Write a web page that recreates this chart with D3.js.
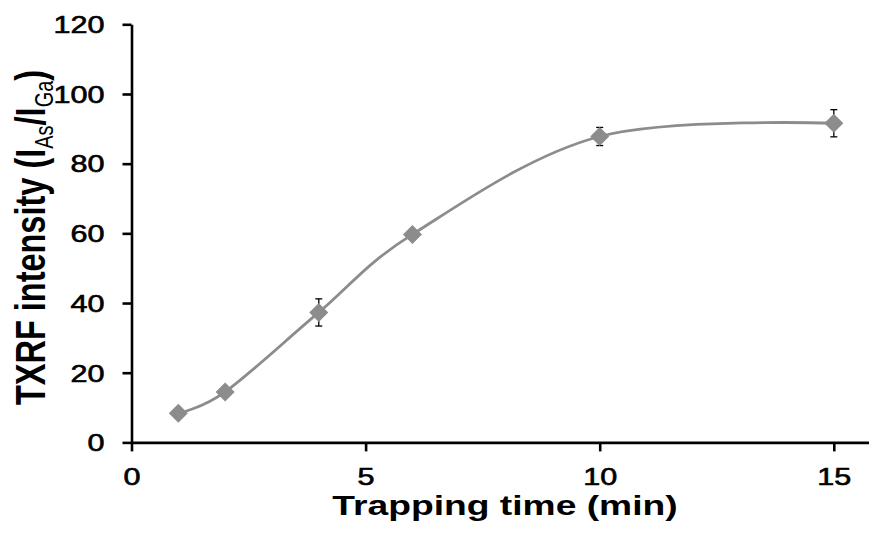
<!DOCTYPE html>
<html>
<head>
<meta charset="utf-8">
<script src="https://cdn.jsdelivr.net/npm/d3@7"></script>
<style>
  html, body { margin: 0; padding: 0; background: #fff; }
  svg { display: block; }
  text { font-family: "Liberation Sans", Arial, sans-serif; fill: #000; }
</style>
</head>
<body>
<svg id="chart" width="869" height="537"></svg>
<script>
// ---- data ----
const times = [1, 2, 4, 6, 10, 15];
const intensity = [8.4, 14.5, 37.3, 59.7, 87.8, 91.6];
const errors = [0.5, 0.6, 3.9, 1.0, 2.6, 3.9];
const xTicks = [0, 5, 10, 15];
const yTicks = [0, 20, 40, 60, 80, 100, 120];
const xTitle = "Trapping time (min)";

// ---- layout ----
const W = 869, H = 537;
const K = 1.33; // horizontal text stretch of the reference
const x0 = 131.5, pxPerX = 46.82;
const x = d3.scaleLinear().domain([0, 16]).range([x0, x0 + 16 * pxPerX]);
const y = d3.scaleLinear().domain([0, 120]).range([442.4, 24.3]);

const svg = d3.select("#chart");
svg.append("rect").attr("width", W).attr("height", H).attr("fill", "#fff");

const points = times.map((t, i) => ({ t, v: intensity[i], e: errors[i] }));

// smoothed line
const line = d3.line().x(d => x(d.t)).y(d => y(d.v)).curve(d3.curveCardinal.tension(0));
svg.append("path").datum(points)
  .attr("d", line).attr("fill", "none")
  .attr("stroke", "#8c8c8c").attr("stroke-width", 2.8);

// error bars
const eb = svg.append("g").attr("stroke", "#000").attr("stroke-width", 1.3);
points.forEach(d => {
  const cx = x(d.t), yt = y(d.v + d.e), yb = y(d.v - d.e);
  eb.append("line").attr("x1", cx).attr("x2", cx).attr("y1", yt).attr("y2", yb);
  eb.append("line").attr("x1", cx - 3.5).attr("x2", cx + 3.5).attr("y1", yt).attr("y2", yt);
  eb.append("line").attr("x1", cx - 3.5).attr("x2", cx + 3.5).attr("y1", yb).attr("y2", yb);
});

// markers
svg.append("g").selectAll("path").data(points).join("path")
  .attr("transform", d => `translate(${x(d.t)},${y(d.v)})`)
  .attr("d", "M0,-9.5L9.5,0L0,9.5L-9.5,0Z")
  .attr("fill", "#8c8c8c");

// axes
const gx = svg.append("g").attr("transform", `translate(0,${y(0)})`)
  .call(d3.axisBottom(x).tickValues(xTicks).tickSize(9).tickSizeOuter(0).tickFormat(d3.format("d")));
const gy = svg.append("g").attr("transform", `translate(${x(0)},0)`)
  .call(d3.axisLeft(y).tickValues(yTicks).tickSize(9).tickSizeOuter(0).tickFormat(d3.format("d")));

[gx, gy].forEach(g => {
  g.select(".domain").attr("stroke", "#000").attr("stroke-width", 2.6);
  g.selectAll(".tick line").attr("stroke", "#000").attr("stroke-width", 2.6);
  g.attr("font-size", null).attr("font-family", null);
  g.selectAll(".tick text").attr("stroke", "#000").attr("stroke-width", 0.6);
});
gx.selectAll(".tick text")
  .attr("y", 0).attr("dy", null)
  .attr("transform", `translate(0,43) scale(${K},1)`)
  .style("font-size", "23px");
gy.selectAll(".tick text")
  .attr("x", 0).attr("dy", "0.36em")
  .attr("transform", `translate(-27,0) scale(${K},1)`)
  .style("font-size", "23px");

// x title
svg.append("text")
  .attr("transform", `translate(505,515) scale(${K},1)`)
  .attr("text-anchor", "middle")
  .style("font-size", "28px").style("font-weight", "bold")
  .text(xTitle);

// y title with subscripts
const yt = svg.append("text")
  .attr("transform", `translate(45,237.5) scale(${K},1) rotate(-90)`)
  .attr("text-anchor", "middle")
  .style("font-size", "32.5px").style("font-weight", "bold");
yt.append("tspan").text("TXRF intensity (I");
yt.append("tspan").attr("dy", 6).style("font-size", "20px").style("font-weight", "normal").text("As");
yt.append("tspan").attr("dy", -6).text("/I");
yt.append("tspan").attr("dy", 6).style("font-size", "20px").style("font-weight", "normal").text("Ga");
yt.append("tspan").attr("dy", -6).text(")");
</script>
</body>
</html>
